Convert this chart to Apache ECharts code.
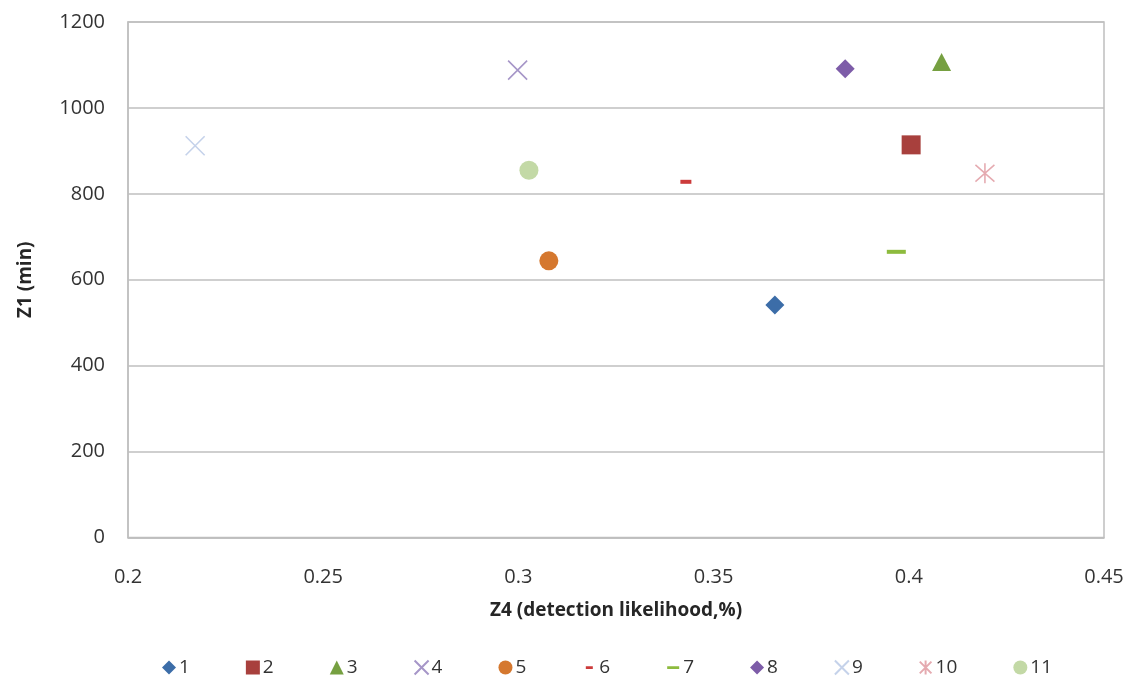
<!DOCTYPE html>
<html>
<head>
<meta charset="utf-8">
<script src="https://cdn.jsdelivr.net/npm/echarts@6/dist/echarts.min.js"></script>
<style>
html,body{margin:0;padding:0;background:#fff;}
#chart{width:1129px;height:679px;}
</style>
</head>
<body>
<div id="chart"></div>
<script>
var seriesNames = ['1','2','3','4','5','6','7','8','9','10','11'];
var xValues = [0.3657, 0.4006, 0.4084, 0.2998, 0.3078, 0.3429, 0.3968, 0.3837, 0.2172, 0.4195, 0.3027];
var yValues = [541, 914, 1107, 1088, 644, 828, 665, 1091, 912, 848, 855];
var xTicks = [0.2, 0.25, 0.3, 0.35, 0.4, 0.45];
var yTicks = [0, 200, 400, 600, 800, 1000, 1200];

var colors = ['#3C6DA8','#A8403D','#76A041','#A696C8','#D5782F','#CC3B3B','#8DBB3E','#7D5CA8','#C5D2EA','#E5AAB0','#C3D9A6'];
var xPath = 'path://M0,0L10,10M10,0L0,10';
var starPath = 'path://M0,0L10,10M10,0L0,10M5,-1L5,11';
var symbols = ['diamond','rect','triangle',xPath,'circle','rect','rect','diamond',xPath,starPath,'circle'];
var sizes = [[19,19],[19,19],[19,18],[19,19],[19,19],[11,4],[19,4],[19,19],[19,19],[19,20],[19,19]];
var stroked = [false,false,false,true,false,false,false,false,true,true,false];
var legendIcons = {
  '6': 'path://M0,0h0.01v0.01h-0.01zM3.5,5.8h7v2.6h-7zM14,14h-0.01v-0.01h0.01z',
  '7': 'path://M0,0h0.01v0.01h-0.01zM1,5.8h12v2.6h-12zM14,14h-0.01v-0.01h0.01z'
};

var series = seriesNames.map(function(name, i){
  return {
    name: name,
    type: 'scatter',
    data: [[xValues[i], yValues[i]]],
    symbol: symbols[i],
    symbolSize: sizes[i],
    itemStyle: stroked[i]
      ? {color: 'rgba(0,0,0,0)', borderColor: colors[i], borderWidth: 1.6, opacity: 1}
      : {color: colors[i], opacity: 1},
    emphasis: {disabled: true}
  };
});

var legendData = seriesNames.map(function(name){
  return legendIcons[name] ? {name: name, icon: legendIcons[name]} : {name: name};
});

var chart = echarts.init(document.getElementById('chart'));
chart.setOption({
  animation: false,
  backgroundColor: '#ffffff',
  textStyle: {fontFamily: 'Open Sans'},
  grid: {left: 128, right: 25, top: 22, bottom: 141.5, show: true, borderColor: '#BFBFBF', borderWidth: 1.5},
  xAxis: {
    type: 'value', min: xTicks[0], max: xTicks[xTicks.length-1], interval: 0.05,
    name: 'Z4 (detection likelihood,%)', nameLocation: 'middle', nameGap: 64,
    nameTextStyle: {fontFamily: 'Open Sans', fontSize: 19, fontWeight: 'bold', color: '#262626'},
    axisLine: {show: true, lineStyle: {color: '#BFBFBF', width: 1.5}},
    axisTick: {show: false},
    splitLine: {show: false},
    axisLabel: {margin: 30, fontSize: 20, color: '#333333', fontFamily: 'Open Sans',
      formatter: function(v){ return String(Math.round(v*100)/100); }}
  },
  yAxis: {
    type: 'value', min: yTicks[0], max: yTicks[yTicks.length-1], interval: 200,
    name: 'Z1 (min)', nameLocation: 'middle', nameGap: 93, nameRotate: 90,
    nameTextStyle: {fontFamily: 'Open Sans', fontSize: 19, fontWeight: 'bold', color: '#262626'},
    axisLine: {show: true, lineStyle: {color: '#BFBFBF', width: 1.5}},
    axisTick: {show: false},
    splitLine: {show: true, lineStyle: {color: '#BFBFBF', width: 1.5}},
    axisLabel: {margin: 23, fontSize: 20, color: '#333333', fontFamily: 'Open Sans',
      formatter: function(v){ return String(v); }}
  },
  legend: {
    data: legendData,
    left: 157, top: 653,
    itemWidth: 14, itemHeight: 14, itemGap: 56,
    textStyle: {fontSize: 19, color: '#333333', fontFamily: 'Open Sans', padding: [0,0,0,-2]}
  },
  series: series
});
</script>
</body>
</html>
